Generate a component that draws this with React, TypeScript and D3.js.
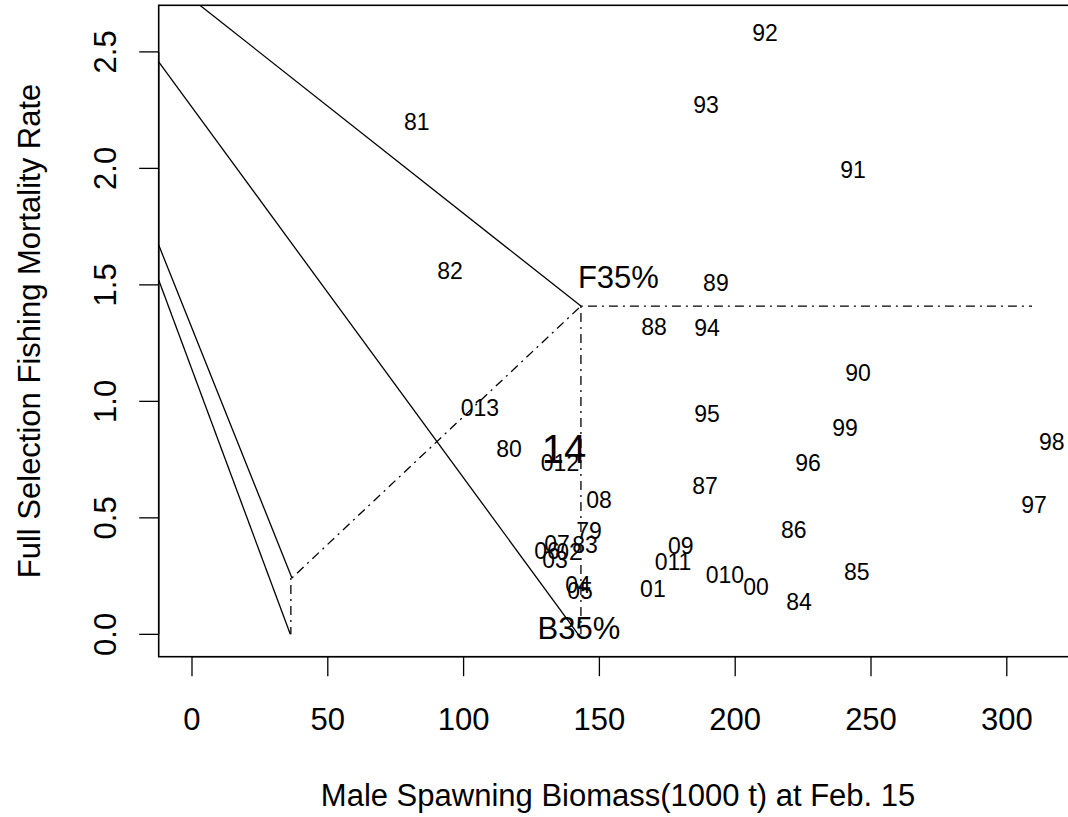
import React from "react";
import * as d3 from "d3";

// ---- data ----
const yearLabels = ["79","80","81","82","83","84","85","86","87","88","89","90","91","92","93","94","95","96","97","98","99","00","01","02","03","04","05","06","07","08","09","010","011","012","013"];
const biomass = [146.2,116.7,82.8,95.0,144.7,223.5,244.8,221.6,188.9,170.1,192.9,245.2,243.4,211.0,189.3,189.6,189.6,226.8,310.0,316.6,240.4,207.7,169.7,138.8,133.7,142.1,142.9,130.7,134.4,149.9,180.0,196.2,177.1,135.5,106.0];
const fishingRate = [0.443,0.795,2.199,1.559,0.383,0.139,0.267,0.448,0.637,1.319,1.508,1.122,1.993,2.581,2.272,1.315,0.946,0.735,0.555,0.826,0.886,0.203,0.195,0.353,0.319,0.212,0.186,0.358,0.388,0.576,0.379,0.255,0.310,0.736,0.971];

const currentLabel = "14";
const currentBiomass = 137.0;
const currentRate = 0.797;

const B35 = 143.2;
const F35 = 1.409;
const B35low = 36.4;
const F35low = 0.242;
const hLineEnd = 309.3;

// solid control-rule lines (x arrays / y arrays)
const solidX = [[0, B35], [-12.26, 142.2], [-12.26, 36.8], [-12.26, 36.2]];
const solidY = [[2.727, F35], [2.457, 0.0], [1.671, F35low], [1.521, 0.0]];

// dash-dot reference lines
const dashX = [[B35, hLineEnd], [B35, B35], [36.8, B35], [B35low, B35low]];
const dashY = [[F35, F35], [F35, 0.0], [F35low, F35], [F35low, 0.0]];

const xTicks = [0, 50, 100, 150, 200, 250, 300];
const yTicks = [0, 0.5, 1.0, 1.5, 2.0, 2.5];

const xDomain = [-12.26, 326];
const yDomain = [-0.096, 2.70];

export default function App() {
  const W = 1068, H = 817;
  const left = 158.7, top = 5.3, bottom = 656.7;
  const right = left + (xDomain[1] - xDomain[0]) * 2.716;
  const x = d3.scaleLinear().domain(xDomain).range([left, right]);
  const y = d3.scaleLinear().domain(yDomain).range([bottom, top]);
  const line = d3.line<[number, number]>().x(d => x(d[0])).y(d => y(d[1]));
  const font = "'Liberation Sans', Arial, sans-serif";
  const axisSize = 31;
  const lblSize = 23;

  return (
    <svg width={W} height={H} style={{ position: "absolute", left: 0, top: 0, background: "#fff" }} fontFamily={font}>
      <defs>
        <clipPath id="plotClip">
          <rect x={left} y={top} width={right - left} height={bottom - top} />
        </clipPath>
      </defs>
      <rect x={0} y={0} width={W} height={H} fill="#fff" />
      <g clipPath="url(#plotClip)" fill="none" stroke="#000">
        {solidX.map((xs, i) => (
          <path key={"s" + i} d={line(xs.map((v, j) => [v, solidY[i][j]] as [number, number])) || ""} strokeWidth={1.3} />
        ))}
        {dashX.map((xs, i) => (
          <path key={"d" + i} d={line(xs.map((v, j) => [v, dashY[i][j]] as [number, number])) || ""} strokeWidth={1.3} strokeDasharray="2,5,9,5" />
        ))}
      </g>
      {/* year labels */}
      <g fontSize={lblSize} textAnchor="middle" fill="#000">
        {yearLabels.map((lab, i) => (
          <text key={lab + i} x={x(biomass[i])} y={y(fishingRate[i])} dy="0.36em">{lab}</text>
        ))}
      </g>
      <text x={x(currentBiomass)} y={y(currentRate)} dy="0.36em" fontSize={40} textAnchor="middle">{currentLabel}</text>
      <text x={x(B35) - 3} y={y(F35) - 18} fontSize={axisSize} textAnchor="start">F35%</text>
      <text x={x(B35) - 2} y={y(0) + 5} fontSize={axisSize} textAnchor="middle">B35%</text>
      {/* box */}
      <rect x={left} y={top} width={right - left} height={bottom - top} fill="none" stroke="#000" strokeWidth={1.6} />
      {/* axes */}
      <g stroke="#000" strokeWidth={1.3}>
        <line x1={x(xTicks[0])} x2={x(xTicks[xTicks.length - 1])} y1={bottom} y2={bottom} />
        {xTicks.map(t => <line key={t} x1={x(t)} x2={x(t)} y1={bottom} y2={bottom + 19.5} />)}
        <line y1={y(yTicks[0])} y2={y(yTicks[yTicks.length - 1])} x1={left} x2={left} />
        {yTicks.map(t => <line key={t} y1={y(t)} y2={y(t)} x1={left} x2={left - 19.5} />)}
      </g>
      <g fontSize={axisSize} textAnchor="middle">
        {xTicks.map(t => <text key={t} x={x(t)} y={730}>{String(t)}</text>)}
        {yTicks.map(t => (
          <text key={t} transform={`translate(116,${y(t)}) rotate(-90)`}>{t.toFixed(1)}</text>
        ))}
      </g>
      <text x={(left + right) / 2} y={806} fontSize={axisSize} textAnchor="middle">Male Spawning Biomass(1000 t) at Feb. 15</text>
      <text transform={`translate(40,${(top + bottom) / 2}) rotate(-90)`} fontSize={axisSize} textAnchor="middle">Full Selection Fishing Mortality Rate</text>
    </svg>
  );
}
